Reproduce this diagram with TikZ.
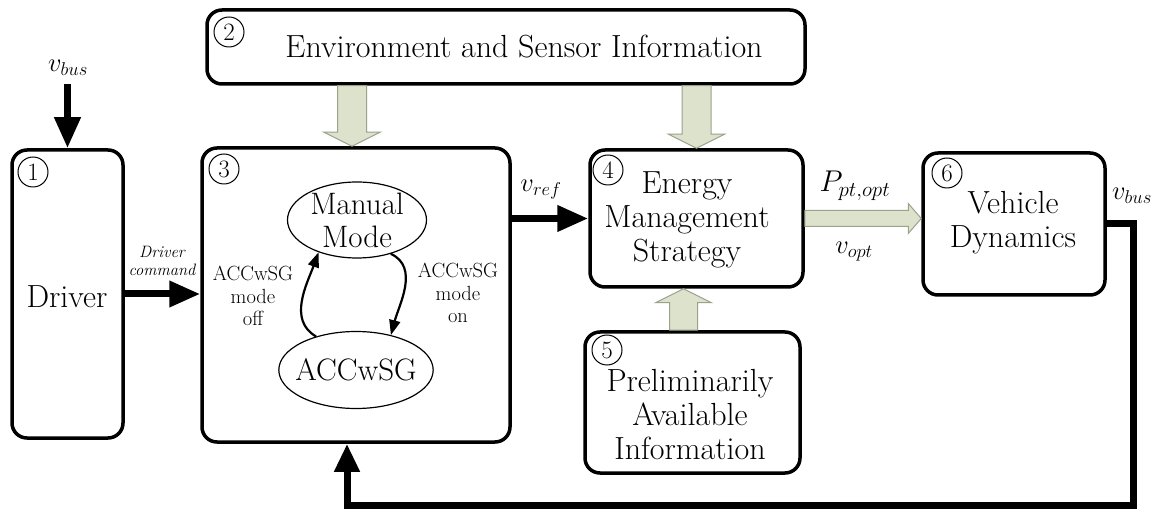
\RequirePackage{fix-cm}
\documentclass[tikz,border=0pt]{standalone}
\usetikzlibrary{arrows.meta,calc,shapes.geometric}
\definecolor{blkfill}{HTML}{DCE2CC}
\definecolor{blkedge}{HTML}{9AA28A}
\tikzset{
  box/.style={draw, line width=3.5pt, rounded corners=15pt, inner sep=0pt},
  numc/.style={circle, draw, line width=1pt, minimum size=30pt, inner sep=0pt, font=\fontsize{25}{25}\selectfont},
  big/.style={align=center, font=\fontsize{32}{34}\selectfont},
  elltext/.style={ellipse, draw, line width=1.2pt, inner sep=-6pt, align=center, font=\fontsize{31}{33}\selectfont},
  small/.style={align=center, font=\fontsize{20.5}{22.5}\selectfont},
  mathlbl/.style={font=\fontsize{26.5}{28}\selectfont},
  thickarrow/.style={line width=7pt, -{Triangle[length=31pt,width=25pt]}},
  curvearrow/.style={line width=2.2pt, -{Triangle[length=15pt,width=11pt]}},
  fat/.style={fill=blkfill, draw=blkedge, line width=1pt},
}
\newcommand\fatdown[2]{\draw[fat] ($(#1)+(-14.5,0)$) -- ($(#2)+(-14.5,14)$) -- ($(#2)+(-28,14)$) -- (#2) -- ($(#2)+(28,14)$) -- ($(#2)+(14.5,14)$) -- ($(#1)+(14.5,0)$) -- cycle;}
\newcommand\fatup[2]{\draw[fat] ($(#1)+(-14,0)$) -- ($(#2)+(-14,-14)$) -- ($(#2)+(-28,-14)$) -- (#2) -- ($(#2)+(28,-14)$) -- ($(#2)+(14,-14)$) -- ($(#1)+(14,0)$) -- cycle;}
\newcommand\fatright[2]{\draw[fat] ($(#1)+(0,8)$) -- ($(#2)+(-13,8)$) -- ($(#2)+(-13,15)$) -- (#2) -- ($(#2)+(-13,-15)$) -- ($(#2)+(-13,-8)$) -- ($(#1)+(0,-8)$) -- cycle;}
\begin{document}
\begin{tikzpicture}[x=1pt,y=1pt]
\useasboundingbox (0,0) rectangle (1162,-510);
% boxes
\node[box, minimum width=111pt, minimum height=288pt] (drv) at (67.5,-294) {};
\node[box, minimum width=598pt, minimum height=74pt] (env) at (506,-47) {};
\node[box, minimum width=308pt, minimum height=294pt] (acc) at (356,-295) {};
\node[box, minimum width=213pt, minimum height=137pt] (ems) at (696.5,-218.5) {};
\node[box, minimum width=215pt, minimum height=141pt] (pre) at (692.5,-402.5) {};
\node[box, minimum width=182pt, minimum height=142pt] (veh) at (1014,-224) {};
% numbers
\node[numc] (n1) at (33,-172) {1};
\node[numc] (n2) at (229,-32) {2};
\node[numc] (n3) at (224,-169) {3};
\node[numc] (n4) at (608,-170) {4};
\node[numc] (n5) at (607,-350) {5};
\node[numc] (n6) at (947,-173) {6};
% box texts
\node[big] (tenv) at (524,-47) {Environment and Sensor Information};
\node[big] (tdrv) at (67,-297) {Driver};
\node[big] (tems) at (687,-220) {Energy\\Management\\Strategy};
\node[big] (tpre) at (690,-415) {Preliminarily\\Available\\Information};
\node[big] (tveh) at (1013,-223) {Vehicle\\Dynamics};
% ellipses
\node[elltext, minimum width=139pt, minimum height=76pt] (mm) at (357,-220) {Manual\\Mode};
\node[elltext, minimum width=151pt, minimum height=77pt] (ac) at (356,-370) {ACCwSG};
\draw[curvearrow] (mm.-45) to[out=-25,in=75] (ac.45);
\draw[curvearrow] (ac.140) to[out=150,in=-110] (mm.-140);
\node[small] (loff) at (253,-296) {ACCwSG\\mode\\off};
\node[small] (lon) at (458,-293) {ACCwSG\\mode\\on};
% thick arrows
\coordinate (vin) at (67.5,-84);
\draw[thickarrow] (vin) -- (drv.north);
\node[mathlbl] (lvin) at (68,-68) {$v_{bus}$};
\draw[thickarrow] (drv.east) -- (acc.west |- drv.east);
\node[align=center, font=\fontsize{16.5}{18.5}\selectfont\itshape] (ldc) at (162,-261) {Driver\\command};
\draw[thickarrow] (acc.east |- ems.west) -- (ems.west);
\node[mathlbl] (lref) at (541,-190) {$v_{ref}$};
\coordinate (fbc) at (1133,-505);
\coordinate (p3) at ([xshift=-9pt]acc.south);
\draw[thickarrow, -{Triangle[length=28pt,width=24pt]}] (veh.east) -| (fbc) -| (p3);
\node[mathlbl] (lvbus) at (1132,-196) {$v_{bus}$};
% block arrows
\coordinate (t3) at ([xshift=-4pt]acc.north);
\fatdown{env.south -| t3}{t3}
\fatdown{env.south -| ems.north}{ems.north}
\coordinate (p4) at ([xshift=-13pt]ems.south);
\fatup{pre.north -| p4}{p4}
\fatright{ems.east}{veh.west |- ems.east}
\node[font=\fontsize{30}{32}\selectfont] (lp) at (855,-186) {$P_{pt,opt}$};
\node[mathlbl] (lopt) at (854,-252) {$v_{opt}$};
\end{tikzpicture}
\end{document}
